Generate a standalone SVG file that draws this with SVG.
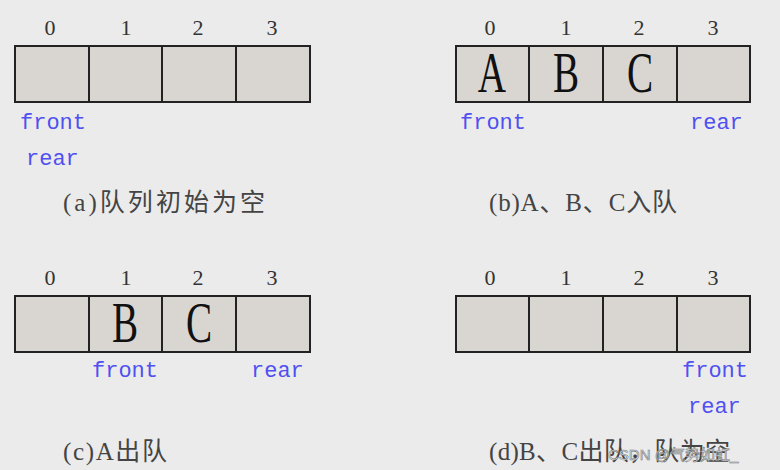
<svg xmlns="http://www.w3.org/2000/svg" width="780" height="470" viewBox="0 0 780 470">
<style>
.cell{fill:#d9d6d2;stroke:#222;stroke-width:2}
.idx{font-family:"Liberation Serif","DejaVu Serif",serif;font-size:22px;fill:#333;text-anchor:middle}
.big{font-family:"Liberation Serif","DejaVu Serif",serif;font-size:56px;fill:#111;text-anchor:middle}
.ptr{font-family:"Liberation Mono","DejaVu Sans Mono",monospace;font-size:22px;fill:#5050f0}
.cap{font-family:"Liberation Serif","Noto Sans CJK SC",serif;font-size:25px;fill:#444}
.wm{font-family:"Liberation Sans","Noto Sans CJK SC",sans-serif;font-size:15px;fill:#f4f4f4;stroke:#777;stroke-width:0.6}
</style>
<rect width="780" height="470" fill="#ebebeb"/>

<g id="panel-a">
<rect class="cell" x="15" y="46" width="74" height="56"/>
<rect class="cell" x="89" y="46" width="73" height="56"/>
<rect class="cell" x="162" y="46" width="74" height="56"/>
<rect class="cell" x="236" y="46" width="74" height="56"/>
<text class="idx" x="50" y="35">0</text>
<text class="idx" x="126" y="35">1</text>
<text class="idx" x="198" y="35">2</text>
<text class="idx" x="272" y="35">3</text>
<text class="ptr" x="20" y="129">front</text>
<text class="ptr" x="26" y="165">rear</text>
<text class="cap" x="63" y="211" textLength="202" lengthAdjust="spacing">(a)队列初始为空</text>
</g>

<g id="panel-b">
<rect class="cell" x="456" y="46" width="73" height="56"/>
<rect class="cell" x="529" y="46" width="74" height="56"/>
<rect class="cell" x="603" y="46" width="74" height="56"/>
<rect class="cell" x="677" y="46" width="73" height="56"/>
<text class="idx" x="490" y="35">0</text>
<text class="idx" x="566" y="35">1</text>
<text class="idx" x="639" y="35">2</text>
<text class="idx" x="713" y="35">3</text>
<text class="big" transform="translate(492,92) scale(0.7,1)">A</text>
<text class="big" transform="translate(566,92) scale(0.7,1)">B</text>
<text class="big" transform="translate(640,92) scale(0.7,1)">C</text>
<text class="ptr" x="460" y="129">front</text>
<text class="ptr" x="690" y="129">rear</text>
<text class="cap" x="489" y="211" textLength="188" lengthAdjust="spacing">(b)A、B、C入队</text>
</g>

<g id="panel-c">
<rect class="cell" x="15" y="296" width="74" height="56"/>
<rect class="cell" x="89" y="296" width="73" height="56"/>
<rect class="cell" x="162" y="296" width="74" height="56"/>
<rect class="cell" x="236" y="296" width="74" height="56"/>
<text class="idx" x="50" y="285">0</text>
<text class="idx" x="126" y="285">1</text>
<text class="idx" x="198" y="285">2</text>
<text class="idx" x="272" y="285">3</text>
<text class="big" transform="translate(125,342) scale(0.7,1)">B</text>
<text class="big" transform="translate(199,342) scale(0.7,1)">C</text>
<text class="ptr" x="92" y="377">front</text>
<text class="ptr" x="251" y="377">rear</text>
<text class="cap" x="63" y="460" textLength="104" lengthAdjust="spacing">(c)A出队</text>
</g>

<g id="panel-d">
<rect class="cell" x="456" y="296" width="73" height="56"/>
<rect class="cell" x="529" y="296" width="74" height="56"/>
<rect class="cell" x="603" y="296" width="74" height="56"/>
<rect class="cell" x="677" y="296" width="73" height="56"/>
<text class="idx" x="490" y="285">0</text>
<text class="idx" x="566" y="285">1</text>
<text class="idx" x="639" y="285">2</text>
<text class="idx" x="713" y="285">3</text>
<text class="ptr" x="682" y="377">front</text>
<text class="ptr" x="688" y="413">rear</text>
<text class="cap" x="489" y="460" textLength="241" lengthAdjust="spacing">(d)B、C出队，队为空</text>
</g>

<text class="wm" x="608" y="460">CSDN @气势如虹_</text>
</svg>
